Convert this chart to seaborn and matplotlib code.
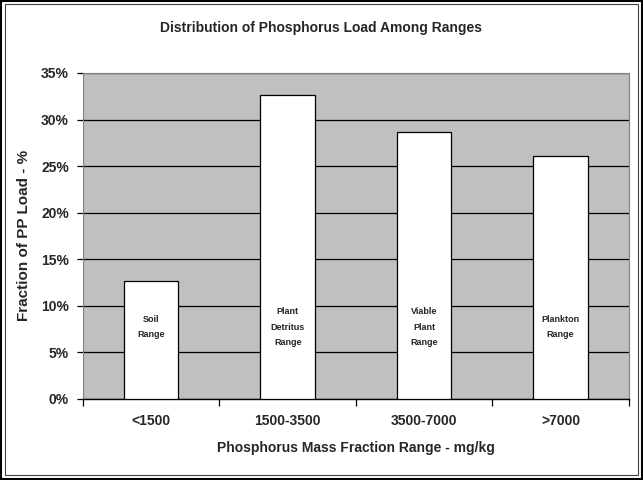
import pandas as pd
import matplotlib.pyplot as plt
from matplotlib.ticker import FuncFormatter, FixedLocator
import seaborn as sns
import numpy as np

categories = ['<1500', '1500-3500', '3500-7000', '>7000']
fractions = [12.7, 32.6, 28.7, 26.1]
range_labels = ['Soil\nRange', 'Plant\nDetritus\nRange', 'Viable\nPlant\nRange', 'Plankton\nRange']

df = pd.DataFrame({'range': categories, 'fraction': fractions})

sns.set_style('white')
plt.rcParams['font.family'] = ['Liberation Sans', 'DejaVu Sans']
plt.rcParams['font.weight'] = 'bold'

fig = plt.figure(figsize=(6.43, 4.80), dpi=100)
ax = fig.add_axes([0.129, 0.169, 0.849, 0.679])
ax.set_facecolor('#c0c0c0')

sns.barplot(data=df, x='range', y='fraction', color='white', edgecolor='black',
            linewidth=0.9, width=0.4, ax=ax, zorder=3)

# range names written inside the bars
for i, lab in enumerate(range_labels):
    ax.text(i, 7.7, lab, ha='center', va='center', fontsize=6.5,
            fontweight='bold', linespacing=1.9, zorder=4)

ax.set_ylim(0, 35)
ax.set_xlim(-0.5, 3.5)
ax.set_yticks(np.arange(0, 36, 5))
ax.yaxis.set_major_formatter(FuncFormatter(lambda v, p: '%d%%' % v))
ax.grid(axis='y', color='black', linewidth=0.9, zorder=1)
ax.set_axisbelow(True)

ax.xaxis.set_minor_locator(FixedLocator([-0.5, 0.5, 1.5, 2.5, 3.5]))
ax.tick_params(axis='x', which='major', length=0, pad=11, labelsize=10)
ax.tick_params(axis='x', which='minor', length=5, width=0.9, color='black', direction='out')
ax.tick_params(axis='y', length=4, width=0.9, color='black', direction='out', labelsize=10, pad=6)
ax.xaxis.set_tick_params(bottom=True, which='minor')
ax.yaxis.set_tick_params(left=True)

for s in ['top', 'right']:
    ax.spines[s].set_color('#808080')
    ax.spines[s].set_linewidth(0.8)
ax.spines['left'].set_color('#808080')
ax.spines['bottom'].set_color('black')
ax.spines['bottom'].set_linewidth(1.0)

ax.set_xlabel('Phosphorus Mass Fraction Range - mg/kg', fontsize=10, fontweight='bold', labelpad=9)
ax.set_ylabel('Fraction of PP Load - %', fontsize=11, fontweight='bold', labelpad=7)
fig.suptitle('Distribution of Phosphorus Load Among Ranges', fontsize=10, fontweight='bold', y=0.957)

# outer chart border (double line)
fig.patches.append(plt.Rectangle((0.002, 0.002), 0.996, 0.996, transform=fig.transFigure,
                                 fill=False, edgecolor='black', linewidth=1.5))
fig.patches.append(plt.Rectangle((0.007, 0.011), 0.986, 0.980, transform=fig.transFigure,
                                 fill=False, edgecolor='#404040', linewidth=0.8))

fig.savefig('out.png', dpi=100)
